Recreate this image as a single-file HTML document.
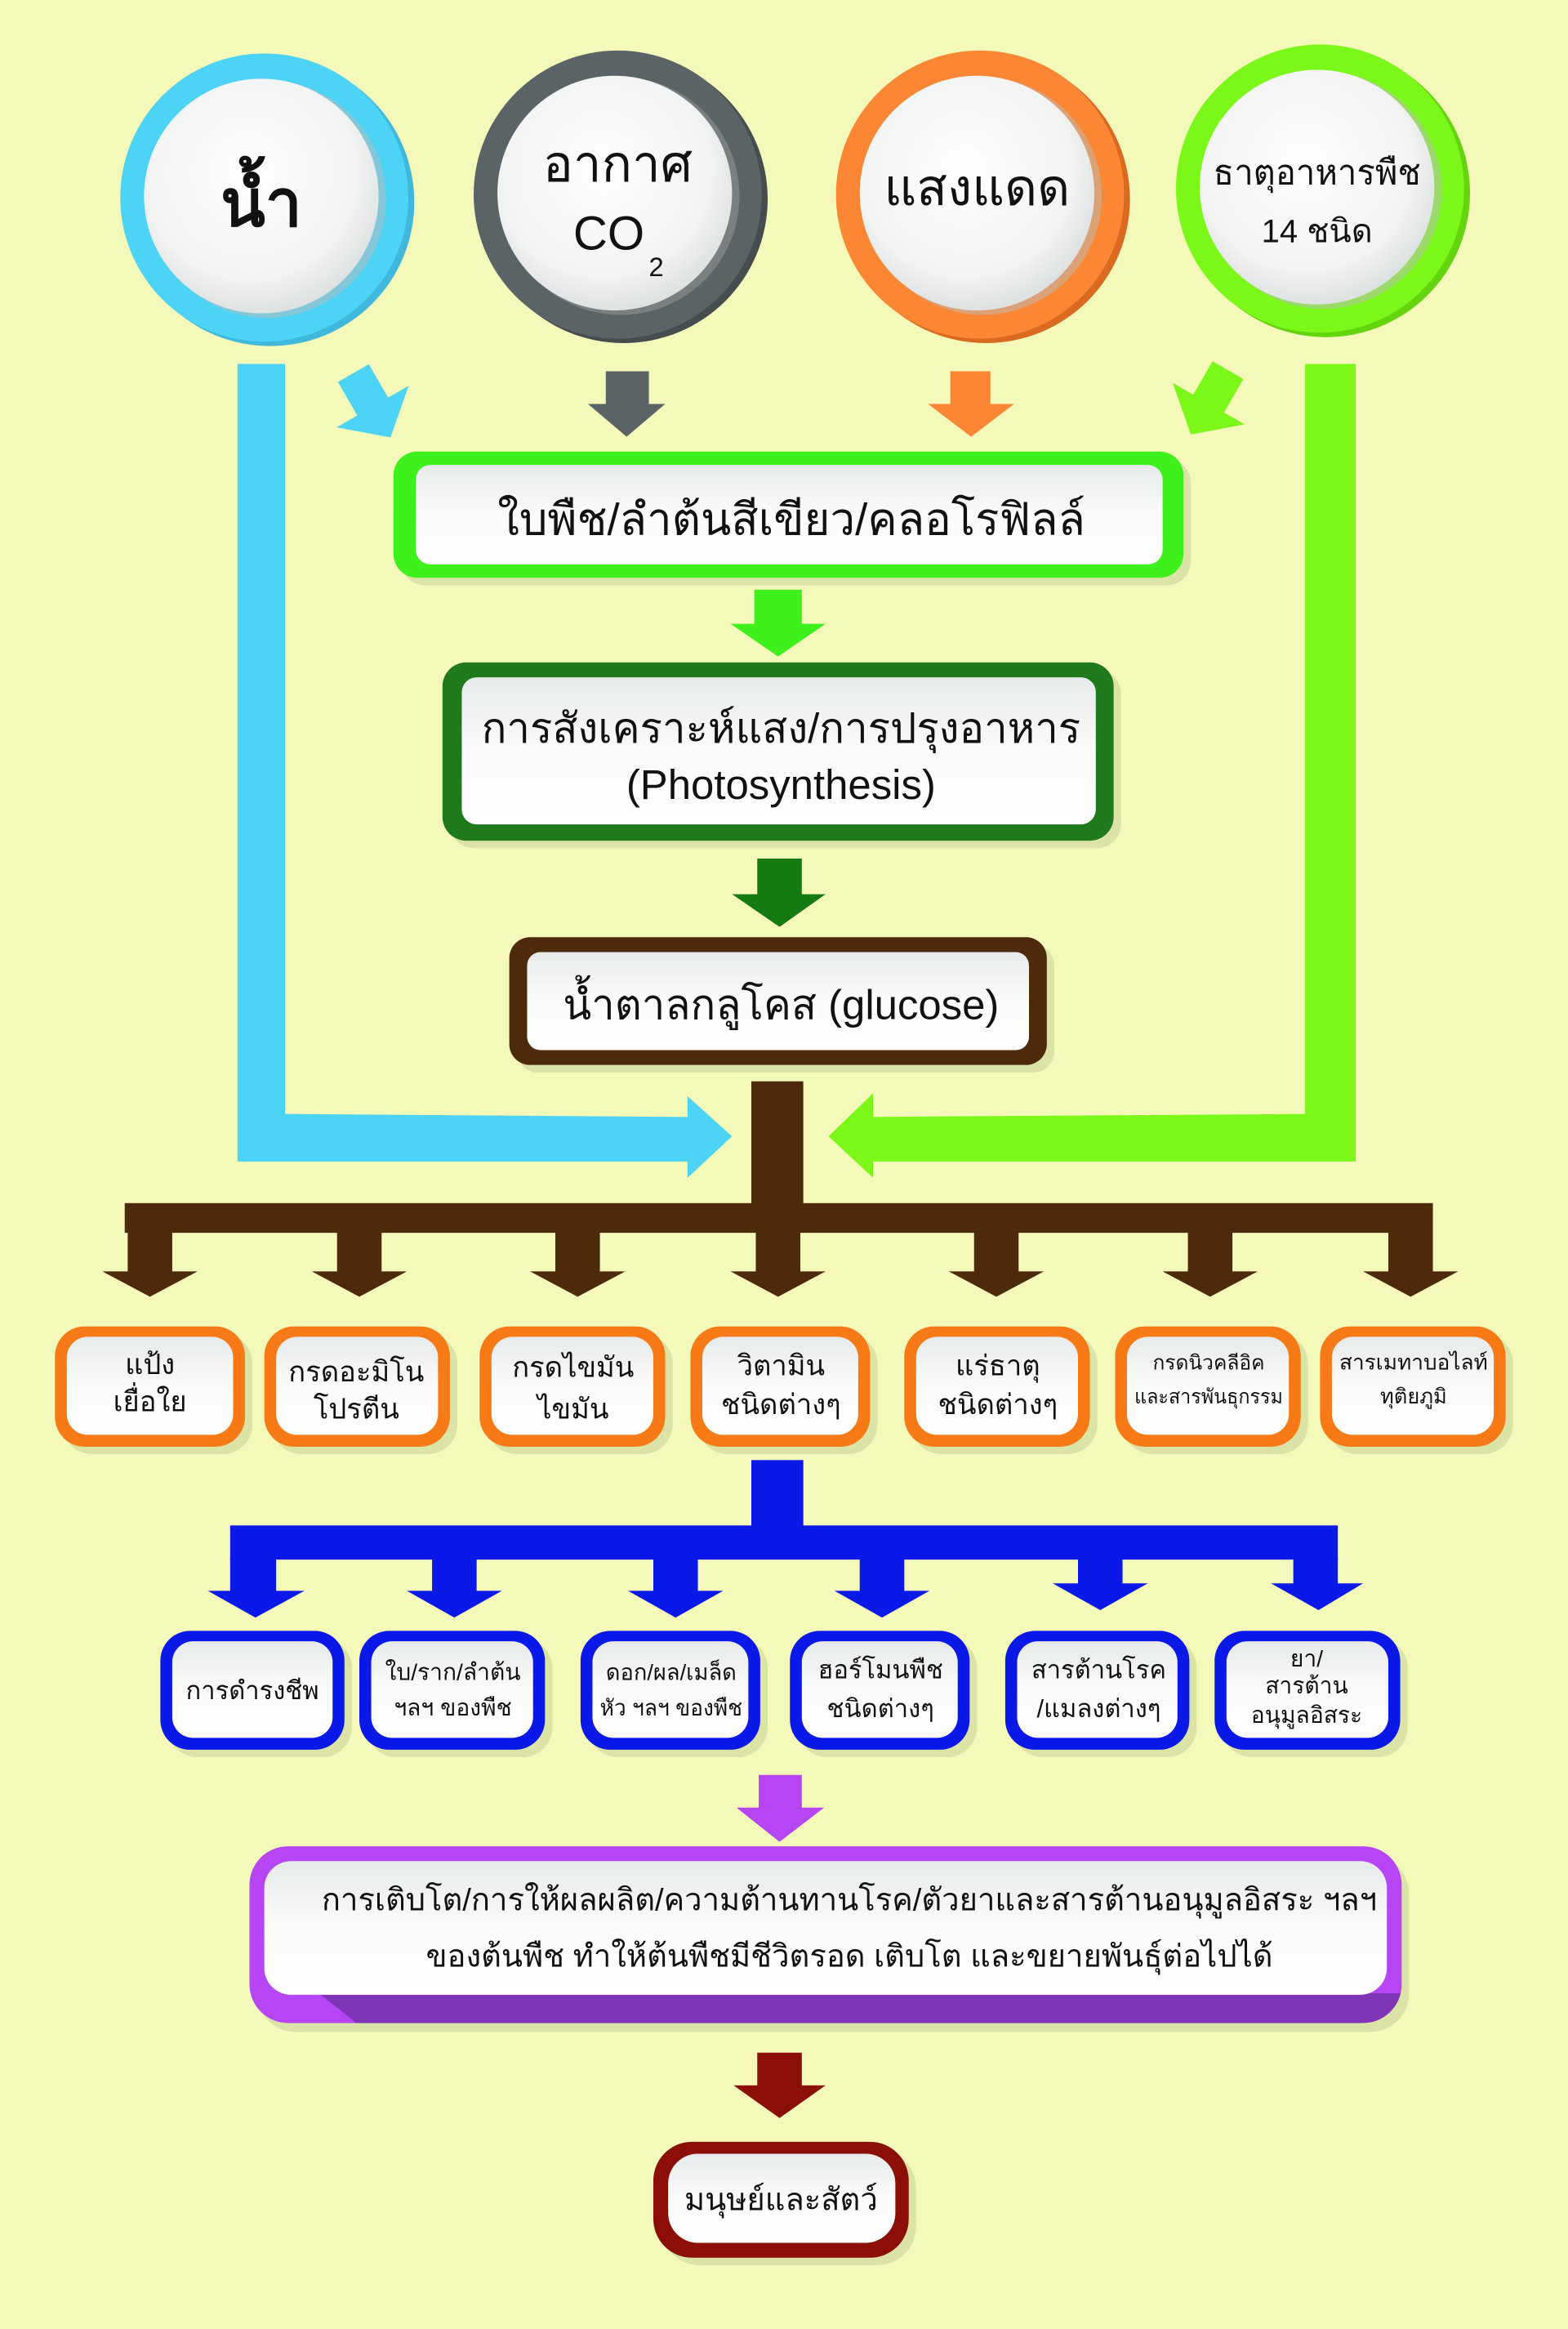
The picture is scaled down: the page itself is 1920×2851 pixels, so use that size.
<!DOCTYPE html>
<html><head><meta charset="utf-8"><style>
html,body{margin:0;padding:0;background:#f4f8b8;}
svg{display:block;}
text{font-family:"Liberation Sans","Noto Sans CJK SC",sans-serif;fill:#111;text-anchor:middle;}
</style></head><body>
<svg width="1920" height="2851" viewBox="0 0 1056 1568" preserveAspectRatio="none" xmlns="http://www.w3.org/2000/svg">
<defs>
<linearGradient id="wg" x1="0" y1="0" x2="0" y2="1"><stop offset="0" stop-color="#e6eaea"/><stop offset="0.5" stop-color="#fbfbfb"/><stop offset="1" stop-color="#ffffff"/></linearGradient>
<radialGradient id="cg" cx="0.45" cy="0.4" r="0.65"><stop offset="0" stop-color="#ffffff"/><stop offset="0.7" stop-color="#f2f3f3"/><stop offset="1" stop-color="#d8dcdc"/></radialGradient>
<clipPath id="pc"><rect x="168" y="1243" width="776" height="119" rx="26"/></clipPath>
</defs>
<rect width="1056" height="1568" fill="#f4f8b8"/>

<!-- top circles -->
<g>
<circle cx="182" cy="136" r="97" fill="#3fb8dc"/><circle cx="178" cy="133" r="97" fill="#4cd3f6"/>
<circle cx="180" cy="134" r="80" fill="#bbb" opacity="0.5"/><circle cx="176" cy="132" r="79" fill="url(#cg)"/>
<text x="176" y="152" font-size="44" font-weight="bold">น้ำ</text>

<circle cx="420" cy="134" r="97" fill="#454d4f"/><circle cx="416" cy="131" r="97" fill="#5a6466"/>
<circle cx="418" cy="132" r="80" fill="#999" opacity="0.5"/><circle cx="414" cy="130" r="79" fill="url(#cg)"/>
<text x="416" y="122" font-size="34">อากาศ</text>
<text x="410" y="168" font-size="32">CO</text><text x="442" y="186" font-size="18">2</text>

<circle cx="664" cy="134" r="97" fill="#d96a20"/><circle cx="660" cy="131" r="97" fill="#fb8633"/>
<circle cx="662" cy="132" r="80" fill="#bbb" opacity="0.5"/><circle cx="658" cy="130" r="79" fill="url(#cg)"/>
<text x="658" y="138" font-size="34">แสงแดด</text>

<circle cx="893" cy="130" r="97" fill="#64d40f"/><circle cx="889" cy="127" r="97" fill="#7cf71a"/>
<circle cx="891" cy="128" r="80" fill="#bbb" opacity="0.5"/><circle cx="887" cy="126" r="79" fill="url(#cg)"/>
<text x="887" y="124" font-size="23">ธาตุอาหารพืช</text>
<text x="887" y="163" font-size="22">14 ชนิด</text>
</g>

<!-- side bars -->
<polygon points="160,245 192,245 192,750 463,752 463,738 493,765 463,793 463,782 160,782" fill="#4cd3f6"/>
<polygon points="879,245 913,245 913,782 588,782 588,793 558,765 588,736 588,752 879,750" fill="#7cf71a"/>

<!-- small arrows -->
<g transform="translate(250,272) rotate(-30)"><polygon points="-12,-24 12,-24 12,2 28,2 0,26 -28,2 -12,2" fill="#4cd3f6"/></g>
<polygon points="408,250 437,250 437,272 448,272 422,294 396,272 408,272" fill="#5a6466"/>
<polygon points="640,250 667,250 667,272 683,272 654,294 625,272 640,272" fill="#fb8633"/>
<g transform="translate(815,270) rotate(30)"><polygon points="-12,-24 12,-24 12,2 28,2 0,26 -28,2 -12,2" fill="#7cf71a"/></g>

<!-- box 1 -->
<rect x="270" y="309" width="532" height="85" rx="16" fill="#c9d79a" opacity="0.6"/>
<rect x="265" y="304" width="532" height="85" rx="16" fill="#3ef01c"/>
<rect x="280" y="313" width="503" height="67" rx="10" fill="url(#wg)"/>
<text x="533" y="360" font-size="30">ใบพืช/ลำต้นสีเขียว/คลอโรฟิลล์</text>
<polygon points="508,397 540,397 540,420 556,420 524,442 492,420 508,420" fill="#3ef01c"/>

<!-- box 2 -->
<rect x="303" y="451" width="452" height="120" rx="16" fill="#c9d79a" opacity="0.6"/>
<rect x="298" y="446" width="452" height="120" rx="16" fill="#1f7a1c"/>
<rect x="311" y="456" width="427" height="99" rx="10" fill="url(#wg)"/>
<text x="526" y="500" font-size="28">การสังเคราะห์แสง/การปรุงอาหาร</text>
<text x="526" y="538" font-size="28">(Photosynthesis)</text>
<polygon points="510,578 540,578 540,602 556,602 525,624 493,602 510,602" fill="#157a12"/>

<!-- box 3 -->
<rect x="348" y="636" width="362" height="86" rx="14" fill="#c9d79a" opacity="0.6"/>
<rect x="343" y="631" width="362" height="86" rx="14" fill="#4e2a0c"/>
<rect x="355" y="641" width="338" height="66" rx="9" fill="url(#wg)"/>
<text x="526" y="686" font-size="28">น้ำตาลกลูโคส (glucose)</text>

<!-- brown tree -->
<rect x="506" y="728" width="35" height="85" fill="#4e2a0c"/>
<rect x="84" y="810" width="881" height="20" fill="#4e2a0c"/>
<g fill="#4e2a0c">
<polygon points="86,829 116,829 116,856 133,856 101,873 69,856 86,856"/>
<polygon points="227,829 257,829 257,856 274,856 242,873 210,856 227,856"/>
<polygon points="374,829 404,829 404,856 421,856 389,873 357,856 374,856"/>
<polygon points="509,829 539,829 539,856 556,856 524,873 492,856 509,856"/>
<polygon points="656,829 686,829 686,856 703,856 671,873 639,856 656,856"/>
<polygon points="800,829 830,829 830,856 847,856 815,873 783,856 800,856"/>
<polygon points="935,829 965,829 965,856 982,856 950,873 918,856 935,856"/>
</g>

<!-- orange boxes -->
<g>
<g><rect x="42" y="898" width="128" height="81" rx="20" fill="#c9d79a" opacity="0.6"/><rect x="37" y="893" width="128" height="81" rx="20" fill="#f77a16"/><rect x="45" y="900" width="112" height="66" rx="14" fill="url(#wg)"/>
<text x="101" y="925" font-size="19">แป้ง</text><text x="101" y="950" font-size="19">เยื่อใย</text></g>
<g><rect x="183" y="898" width="125" height="81" rx="20" fill="#c9d79a" opacity="0.6"/><rect x="178" y="893" width="125" height="81" rx="20" fill="#f77a16"/><rect x="186" y="900" width="109" height="66" rx="14" fill="url(#wg)"/>
<text x="240" y="930" font-size="19">กรดอะมิโน</text><text x="240" y="955" font-size="19">โปรตีน</text></g>
<g><rect x="328" y="898" width="125" height="81" rx="20" fill="#c9d79a" opacity="0.6"/><rect x="323" y="893" width="125" height="81" rx="20" fill="#f77a16"/><rect x="331" y="900" width="109" height="66" rx="14" fill="url(#wg)"/>
<text x="386" y="927" font-size="19">กรดไขมัน</text><text x="386" y="955" font-size="19">ไขมัน</text></g>
<g><rect x="470" y="898" width="121" height="81" rx="20" fill="#c9d79a" opacity="0.6"/><rect x="465" y="893" width="121" height="81" rx="20" fill="#f77a16"/><rect x="473" y="900" width="105" height="66" rx="14" fill="url(#wg)"/>
<text x="526" y="926" font-size="19">วิตามิน</text><text x="526" y="952" font-size="19">ชนิดต่างๆ</text></g>
<g><rect x="614" y="898" width="125" height="81" rx="20" fill="#c9d79a" opacity="0.6"/><rect x="609" y="893" width="125" height="81" rx="20" fill="#f77a16"/><rect x="617" y="900" width="109" height="66" rx="14" fill="url(#wg)"/>
<text x="672" y="926" font-size="19">แร่ธาตุ</text><text x="672" y="952" font-size="19">ชนิดต่างๆ</text></g>
<g><rect x="756" y="898" width="125" height="81" rx="20" fill="#c9d79a" opacity="0.6"/><rect x="751" y="893" width="125" height="81" rx="20" fill="#f77a16"/><rect x="759" y="900" width="109" height="66" rx="14" fill="url(#wg)"/>
<text x="814" y="922" font-size="13.5">กรดนิวคลีอิค</text><text x="814" y="945" font-size="13.5" textLength="100" lengthAdjust="spacingAndGlyphs">และสารพันธุกรรม</text></g>
<g><rect x="894" y="898" width="125" height="81" rx="20" fill="#c9d79a" opacity="0.6"/><rect x="889" y="893" width="125" height="81" rx="20" fill="#f77a16"/><rect x="897" y="900" width="109" height="66" rx="14" fill="url(#wg)"/>
<text x="952" y="922" font-size="14" textLength="100" lengthAdjust="spacingAndGlyphs">สารเมทาบอไลท์</text><text x="952" y="945" font-size="14">ทุติยภูมิ</text></g>
</g>

<!-- blue tree -->
<rect x="506" y="983" width="35" height="48" fill="#0a18e8"/>
<rect x="155" y="1027" width="746" height="23" fill="#0a18e8"/>
<g fill="#0a18e8">
<polygon points="155,1049 186,1049 186,1071 205,1071 172,1089 140,1071 155,1071"/>
<polygon points="291,1049 321,1049 321,1071 338,1071 306,1089 274,1071 291,1071"/>
<polygon points="440,1049 470,1049 470,1071 487,1071 455,1089 423,1071 440,1071"/>
<polygon points="579,1049 609,1049 609,1071 626,1071 594,1089 562,1071 579,1071"/>
<polygon points="726,1049 756,1049 756,1066 773,1066 741,1084 709,1066 726,1066"/>
<polygon points="871,1049 901,1049 901,1066 918,1066 888,1084 856,1066 871,1066"/>
</g>

<!-- blue boxes -->
<g>
<g><rect x="113" y="1103" width="124" height="80" rx="20" fill="#c9d79a" opacity="0.6"/><rect x="108" y="1098" width="124" height="80" rx="20" fill="#0a18e8"/><rect x="116" y="1105" width="108" height="65" rx="14" fill="url(#wg)"/>
<text x="170" y="1144" font-size="17">การดำรงชีพ</text></g>
<g><rect x="247" y="1103" width="125" height="80" rx="20" fill="#c9d79a" opacity="0.6"/><rect x="242" y="1098" width="125" height="80" rx="20" fill="#0a18e8"/><rect x="250" y="1105" width="109" height="65" rx="14" fill="url(#wg)"/>
<text x="305" y="1131" font-size="15.5">ใบ/ราก/ลำต้น</text><text x="305" y="1155" font-size="15.5">ฯลฯ ของพืช</text></g>
<g><rect x="396" y="1103" width="121" height="80" rx="20" fill="#c9d79a" opacity="0.6"/><rect x="391" y="1098" width="121" height="80" rx="20" fill="#0a18e8"/><rect x="399" y="1105" width="105" height="65" rx="14" fill="url(#wg)"/>
<text x="452" y="1131" font-size="15">ดอก/ผล/เมล็ด</text><text x="452" y="1155" font-size="15" textLength="96" lengthAdjust="spacingAndGlyphs">หัว ฯลฯ ของพืช</text></g>
<g><rect x="537" y="1103" width="121" height="80" rx="20" fill="#c9d79a" opacity="0.6"/><rect x="532" y="1098" width="121" height="80" rx="20" fill="#0a18e8"/><rect x="540" y="1105" width="105" height="65" rx="14" fill="url(#wg)"/>
<text x="593" y="1130" font-size="17">ฮอร์โมนพืช</text><text x="593" y="1156" font-size="17">ชนิดต่างๆ</text></g>
<g><rect x="682" y="1103" width="124" height="80" rx="20" fill="#c9d79a" opacity="0.6"/><rect x="677" y="1098" width="124" height="80" rx="20" fill="#0a18e8"/><rect x="685" y="1105" width="108" height="65" rx="14" fill="url(#wg)"/>
<text x="740" y="1130" font-size="17">สารต้านโรค</text><text x="740" y="1156" font-size="17">/แมลงต่างๆ</text></g>
<g><rect x="823" y="1103" width="125" height="80" rx="20" fill="#c9d79a" opacity="0.6"/><rect x="818" y="1098" width="125" height="80" rx="20" fill="#0a18e8"/><rect x="826" y="1105" width="109" height="65" rx="14" fill="url(#wg)"/>
<text x="880" y="1122" font-size="15.5">ยา/</text><text x="880" y="1140" font-size="15.5">สารต้าน</text><text x="880" y="1160" font-size="15.5">อนุมูลอิสระ</text></g>
</g>

<!-- purple -->
<polygon points="511,1195 540,1195 540,1217 555,1217 525,1240 496,1217 511,1217" fill="#b545f5"/>
<rect x="173" y="1249" width="776" height="119" rx="26" fill="#c9d79a" opacity="0.6"/>
<rect x="168" y="1243" width="776" height="119" rx="26" fill="#b545f5"/>
<polygon points="215,1342 944,1342 944,1362 240,1362" fill="#5a2a8a" opacity="0.6" clip-path="url(#pc)"/>
<rect x="178" y="1253" width="756" height="90" rx="18" fill="url(#wg)"/>
<text x="572" y="1286" font-size="21">การเติบโต/การให้ผลผลิต/ความต้านทานโรค/ตัวยาและสารต้านอนุมูลอิสระ ฯลฯ</text>
<text x="572" y="1324" font-size="21">ของต้นพืช ทำให้ต้นพืชมีชีวิตรอด เติบโต และขยายพันธุ์ต่อไปได้</text>

<!-- dark red -->
<polygon points="510,1382 540,1382 540,1404 556,1404 525,1426 494,1404 510,1404" fill="#8b0f06"/>
<rect x="445" y="1447" width="172" height="78" rx="26" fill="#c9d79a" opacity="0.6"/>
<rect x="440" y="1442" width="172" height="78" rx="26" fill="#8b0f06"/>
<rect x="450" y="1450" width="153" height="60" rx="20" fill="url(#wg)"/>
<text x="526" y="1488" font-size="21">มนุษย์และสัตว์</text>
</svg>
</body></html>
